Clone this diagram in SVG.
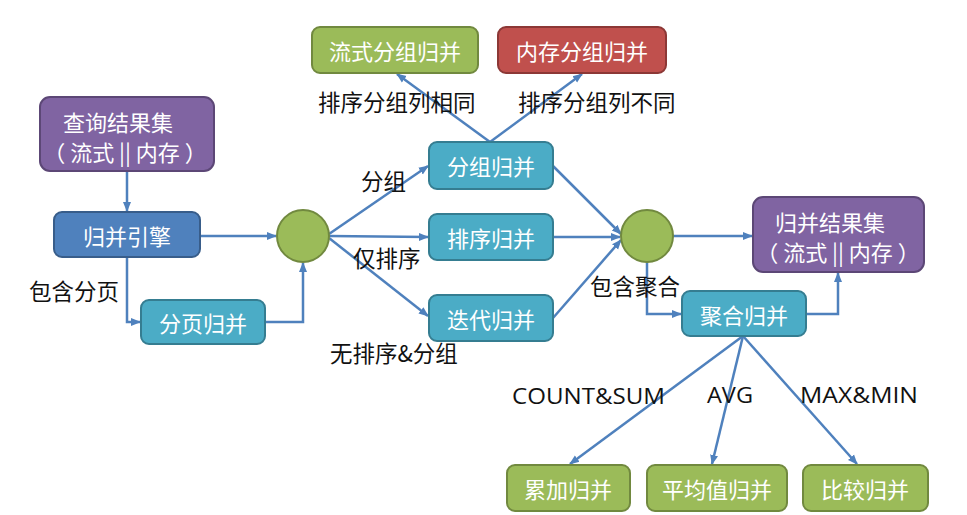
<svg xmlns="http://www.w3.org/2000/svg" width="967" height="515" viewBox="0 0 967 515">
<defs>
<marker id="ah" viewBox="0 0 10 10" refX="9" refY="5" markerWidth="10" markerHeight="10" orient="auto" markerUnits="userSpaceOnUse">
<path d="M0,1 L10,5 L0,9 z" fill="#4f81bd"/>
</marker>
<style>
.box{stroke-width:2}
.purple{fill:#8064a2;stroke:#5c4776}
.blue{fill:#4f81bd;stroke:#385d8a}
.cyan{fill:#4bacc6;stroke:#357d91}
.green{fill:#9bbb59;stroke:#71893f}
.red{fill:#c0504d;stroke:#8c3836}
.nt{font-family:"Noto Sans CJK SC","Liberation Sans",sans-serif;font-size:22px;fill:#ffffff;text-anchor:middle;dominant-baseline:central}
.lb{font-family:"Noto Sans CJK SC","Liberation Sans",sans-serif;font-size:22.5px;fill:#111111;dominant-baseline:central}
.ln{fill:none;stroke:#4f81bd;stroke-width:2.5;marker-end:url(#ah)}
</style>
</defs>
<rect width="967" height="515" fill="#ffffff"/>

<g id="connectors">
<path class="ln" d="M127,172 L127,211"/>
<path class="ln" d="M200,236 L276,236"/>
<path class="ln" d="M127,257 L127,322 L140,322"/>
<path class="ln" d="M265,322 L303,322 L303,263"/>
<path class="ln" d="M329,234 L428,166"/>
<path class="ln" d="M329,236 L428,237"/>
<path class="ln" d="M329,238 L428,316"/>
<path class="ln" d="M490,142 L397,74"/>
<path class="ln" d="M490,142 L582,74"/>
<path class="ln" d="M553,166 L621,234"/>
<path class="ln" d="M553,237 L620,237"/>
<path class="ln" d="M553,318 L621,240"/>
<path class="ln" d="M673,236 L752,236"/>
<path class="ln" d="M647,262 L647,314 L681,314"/>
<path class="ln" d="M806,314 L838,314 L838,273"/>
<path class="ln" d="M743,336 L570,464"/>
<path class="ln" d="M743,336 L712,464"/>
<path class="ln" d="M743,336 L857,464"/>
</g>

<g id="labels">
<text class="lb" x="29" y="290">包含分页</text>
<text class="lb" x="318" y="101">排序分组列相同</text>
<text class="lb" x="518" y="101">排序分组列不同</text>
<text class="lb" x="361" y="180">分组</text>
<text class="lb" x="353" y="257">仅排序</text>
<text class="lb" x="330" y="352">无排序&amp;分组</text>
<text class="lb" x="590" y="285">包含聚合</text>
<text class="lb" x="512" y="395" textLength="153" lengthAdjust="spacingAndGlyphs" style="font-family:'Open Sans','Liberation Sans',sans-serif">COUNT&amp;SUM</text>
<text class="lb" x="707" y="394" textLength="46" lengthAdjust="spacingAndGlyphs" style="font-family:'Open Sans','Liberation Sans',sans-serif">AVG</text>
<text class="lb" x="800" y="394" textLength="118" lengthAdjust="spacingAndGlyphs" style="font-family:'Open Sans','Liberation Sans',sans-serif">MAX&amp;MIN</text>
</g>

<g id="n-query">
<rect class="box purple" x="40" y="97" width="174" height="74" rx="10"/>
<text class="nt" x="118" y="121">查询结果集</text>
<text class="nt" x="125" y="151" xml:space="preserve">（ 流式 || 内存 ）</text>
</g>
<g id="n-engine">
<rect class="box blue" x="54" y="212" width="146" height="45" rx="8"/>
<text class="nt" x="127" y="235">归并引擎</text>
</g>
<g id="n-page">
<rect class="box cyan" x="141" y="300" width="124" height="44" rx="8"/>
<text class="nt" x="203" y="322">分页归并</text>
</g>
<g id="n-c1">
<circle cx="303" cy="236" r="26" fill="#9bbb59" stroke="#71893f" stroke-width="2"/>
</g>
<g id="n-stream-group">
<rect class="box green" x="312" y="27" width="166" height="46" rx="8"/>
<text class="nt" x="395" y="50">流式分组归并</text>
</g>
<g id="n-mem-group">
<rect class="box red" x="498" y="27" width="168" height="46" rx="8"/>
<text class="nt" x="582" y="50">内存分组归并</text>
</g>
<g id="n-group">
<rect class="box cyan" x="429" y="142" width="124" height="47" rx="8"/>
<text class="nt" x="491" y="165">分组归并</text>
</g>
<g id="n-sort">
<rect class="box cyan" x="429" y="214" width="124" height="46" rx="8"/>
<text class="nt" x="491" y="237">排序归并</text>
</g>
<g id="n-iter">
<rect class="box cyan" x="429" y="295" width="124" height="46" rx="8"/>
<text class="nt" x="491" y="318">迭代归并</text>
</g>
<g id="n-c2">
<circle cx="647" cy="236" r="26" fill="#9bbb59" stroke="#71893f" stroke-width="2"/>
</g>
<g id="n-result">
<rect class="box purple" x="753" y="197" width="171" height="75" rx="10"/>
<text class="nt" x="830" y="221">归并结果集</text>
<text class="nt" x="838" y="251" xml:space="preserve">（ 流式 || 内存 ）</text>
</g>
<g id="n-agg">
<rect class="box cyan" x="682" y="291" width="124" height="45" rx="8"/>
<text class="nt" x="744" y="314">聚合归并</text>
</g>
<g id="n-sum">
<rect class="box green" x="507" y="465" width="123" height="46" rx="8"/>
<text class="nt" x="568" y="488">累加归并</text>
</g>
<g id="n-avg">
<rect class="box green" x="647" y="465" width="140" height="46" rx="8"/>
<text class="nt" x="717" y="488">平均值归并</text>
</g>
<g id="n-cmp">
<rect class="box green" x="803" y="465" width="125" height="46" rx="8"/>
<text class="nt" x="865" y="488">比较归并</text>
</g>
</svg>
